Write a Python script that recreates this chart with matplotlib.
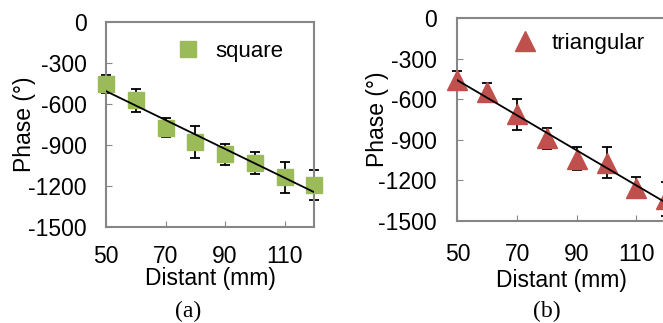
import numpy as np
import matplotlib.pyplot as plt

plt.rcParams['font.family'] = ['Liberation Sans', 'DejaVu Sans']
plt.rcParams['axes.unicode_minus'] = False

distance = [50, 60, 70, 80, 90, 100, 110, 120]

square_phase = [-452, -574, -772, -877, -969, -1032, -1137, -1192]
square_err = [65, 82, 67, 116, 77, 83, 115, 110]

tri_phase = [-460, -550, -714, -891, -1040, -1071, -1257, -1338]
tri_err = [70, 68, 114, 80, 85, 115, 78, 127]

xticks = [50, 70, 90, 110]
yticks = [0, -300, -600, -900, -1200, -1500]

fig = plt.figure(figsize=(6.63, 3.23), dpi=100)
ax1 = fig.add_axes([0.160, 0.297, 0.314, 0.635])
ax2 = fig.add_axes([0.690, 0.317, 0.315, 0.627])

panels = [
    (ax1, square_phase, square_err, 's', '#9BBB59', 'square', 12, (0.341, 0.855)),
    (ax2, tri_phase, tri_err, '^', '#C0504D', 'triangular', 14, (0.27, 0.876)),
]

for ax, phase, err, marker, color, label, ms, legpos in panels:
    ax.errorbar(distance, phase, yerr=err, fmt='none', ecolor='black',
                elinewidth=1.3, capsize=3.6, capthick=1.3, zorder=2, clip_on=False)
    ax.plot(distance, phase, linestyle='none', marker=marker, markersize=ms,
            color=color, label=label, zorder=3, clip_on=False)
    # linear trend line
    coef = np.polyfit(distance, phase, 1)
    xs = np.array([distance[0], distance[-1]])
    ax.plot(xs, np.polyval(coef, xs), color='black', linewidth=1.3, zorder=4)

    ax.set_xlim(50, 120)
    ax.set_ylim(-1500, 0)
    ax.set_xticks(xticks)
    ax.set_yticks(yticks)
    ax.tick_params(axis='both', direction='in', length=4, color='#868686',
                   labelsize=16.5)
    for s in ax.spines.values():
        s.set_color('#868686')
        s.set_linewidth(1.5)
    ax.legend(loc='center left', bbox_to_anchor=legpos, frameon=False,
              fontsize=16, borderpad=0, borderaxespad=0, handlelength=1,
              handletextpad=0.7)

ax1.tick_params(axis='x', pad=13)
ax2.tick_params(axis='x', pad=16)
ax1.tick_params(axis='y', pad=14)
ax2.tick_params(axis='y', pad=15)
ax1.set_xlabel('Distant (mm)', fontsize=16.5, labelpad=-0.5)
ax2.set_xlabel('Distant (mm)', fontsize=16.5, labelpad=2)
ax1.set_ylabel('Phase (°)', fontsize=16.5, labelpad=-6)
ax2.set_ylabel('Phase (°)', fontsize=16.5, labelpad=-8)

fig.text(0.284, 0.035, '(a)', ha='center', va='center',
         family='Liberation Serif', fontsize=17)
fig.text(0.825, 0.037, '(b)', ha='center', va='center',
         family='Liberation Serif', fontsize=17)

fig.savefig('out.png', dpi=100)
